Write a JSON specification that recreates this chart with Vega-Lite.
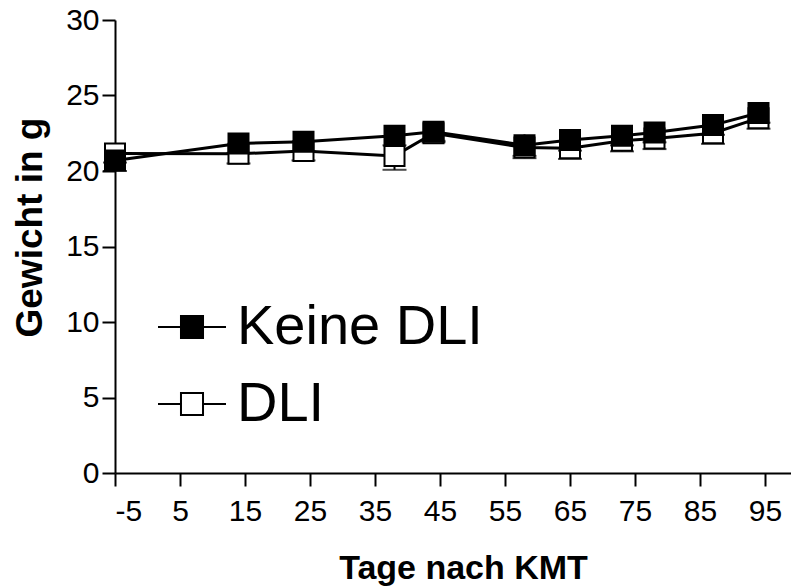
{
  "$schema": "https://vega.github.io/schema/vega-lite/v6.json",
  "width": 676,
  "height": 453,
  "autosize": {"type": "none"},
  "padding": {"left": 115, "top": 20, "right": 0, "bottom": 115},
  "background": "white",
  "config": {
    "view": {"stroke": null},
    "font": "Liberation Sans",
    "axis": {
      "grid": false,
      "domainColor": "black",
      "domainWidth": 2,
      "tickColor": "black",
      "tickWidth": 2,
      "tickSize": 13,
      "labelFont": "Liberation Sans",
      "labelFontSize": 30,
      "labelColor": "black",
      "labelPadding": 3,
      "labelExpr": "'' + datum.value",
      "titleFont": "Liberation Sans",
      "titleFontWeight": "bold",
      "titleColor": "black"
    }
  },
  "data": {
    "values": [
      {"day": -5, "group": "DLI", "weight": 21.16, "lo": 20.56, "hi": 21.76},
      {"day": 14, "group": "DLI", "weight": 21.14, "lo": 20.5, "hi": 21.78},
      {"day": 24, "group": "DLI", "weight": 21.32, "lo": 20.7, "hi": 21.94},
      {"day": 38, "group": "DLI", "weight": 21.0, "lo": 20.08, "hi": 21.92},
      {"day": 44, "group": "DLI", "weight": 22.5, "lo": 21.9, "hi": 23.1},
      {"day": 58, "group": "DLI", "weight": 21.55, "lo": 20.85, "hi": 22.25},
      {"day": 65, "group": "DLI", "weight": 21.5, "lo": 20.8, "hi": 22.2},
      {"day": 73, "group": "DLI", "weight": 22.0, "lo": 21.3, "hi": 22.7},
      {"day": 78, "group": "DLI", "weight": 22.15, "lo": 21.45, "hi": 22.85},
      {"day": 87, "group": "DLI", "weight": 22.5, "lo": 21.8, "hi": 23.2},
      {"day": 94, "group": "DLI", "weight": 23.5, "lo": 22.8, "hi": 24.2},
      {"day": -5, "group": "Keine DLI", "weight": 20.7, "lo": 20.0, "hi": 21.4},
      {"day": 14, "group": "Keine DLI", "weight": 21.82, "lo": 21.2, "hi": 22.44},
      {"day": 24, "group": "Keine DLI", "weight": 21.93, "lo": 21.3, "hi": 22.56},
      {"day": 38, "group": "Keine DLI", "weight": 22.33, "lo": 21.7, "hi": 22.96},
      {"day": 44, "group": "Keine DLI", "weight": 22.6, "lo": 22.0, "hi": 23.2},
      {"day": 58, "group": "Keine DLI", "weight": 21.71, "lo": 21.0, "hi": 22.42},
      {"day": 65, "group": "Keine DLI", "weight": 22.05, "lo": 21.35, "hi": 22.75},
      {"day": 73, "group": "Keine DLI", "weight": 22.33, "lo": 21.7, "hi": 22.96},
      {"day": 78, "group": "Keine DLI", "weight": 22.55, "lo": 21.9, "hi": 23.2},
      {"day": 87, "group": "Keine DLI", "weight": 23.04, "lo": 22.4, "hi": 23.68},
      {"day": 94, "group": "Keine DLI", "weight": 23.84, "lo": 23.2, "hi": 24.48}
    ]
  },
  "encoding": {
    "x": {
      "field": "day",
      "type": "quantitative",
      "scale": {"domain": [-5, 99], "nice": false, "zero": false},
      "axis": {
        "values": [-5, 5, 15, 25, 35, 45, 55, 65, 75, 85, 95],
        "labelPadding": 10,
        "title": "Tage nach KMT",
        "titleFontSize": 34,
        "titleBaseline": "alphabetic",
        "titleX": 348,
        "titleY": 105
      }
    }
  },
  "layer": [
    {
      "mark": {"type": "rule", "color": "black", "strokeWidth": 2},
      "encoding": {
        "y": {"field": "lo", "type": "quantitative", "scale": {"domain": [0, 30], "nice": false}},
        "y2": {"field": "hi"}
      }
    },
    {
      "mark": {"type": "tick", "color": "black", "thickness": 2, "size": 24, "orient": "horizontal"},
      "encoding": {
        "y": {"field": "lo", "type": "quantitative"}
      }
    },
    {
      "mark": {"type": "line", "color": "black", "strokeWidth": 3},
      "encoding": {
        "y": {
          "field": "weight",
          "type": "quantitative",
          "scale": {"domain": [0, 30], "nice": false},
          "axis": {
            "values": [0, 5, 10, 15, 20, 25, 30],
            "title": "Gewicht in g",
            "titleFontSize": 37,
            "titleAngle": 270,
            "titleBaseline": "alphabetic",
            "titleAlign": "center",
            "titleX": -74,
            "titleY": 207
          }
        },
        "detail": {"field": "group"}
      }
    },
    {
      "mark": {"type": "point", "shape": "square", "size": 400, "filled": true, "stroke": "black", "strokeWidth": 2, "opacity": 1},
      "encoding": {
        "y": {"field": "weight", "type": "quantitative"},
        "fill": {
          "field": "group",
          "type": "nominal",
          "scale": {"domain": ["Keine DLI", "DLI"], "range": ["black", "white"]},
          "legend": {
            "title": null,
            "orient": "none",
            "legendX": 42,
            "legendY": 272,
            "padding": 0,
            "symbolType": "M-1,0H-0.324M0.324,0H1M-0.324,-0.324H0.324V0.324H-0.324Z",
            "symbolSize": 4624,
            "symbolStrokeColor": "black",
            "symbolStrokeWidth": 2,
            "symbolOpacity": 1,
            "labelFont": "Liberation Sans",
            "labelFontSize": 56,
            "labelColor": "black",
            "labelOffset": 10,
            "labelLimit": 0,
            "rowPadding": 14
          }
        }
      }
    }
  ]
}
